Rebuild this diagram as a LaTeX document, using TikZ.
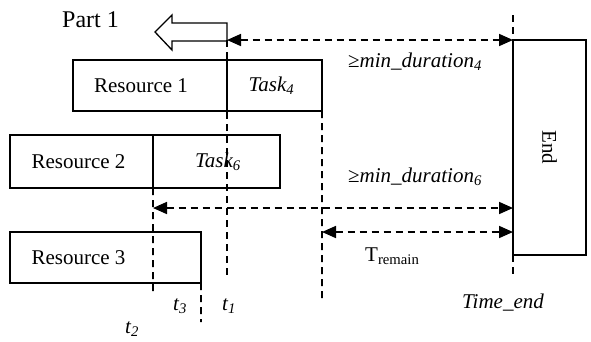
\documentclass[tikz,border=0pt]{standalone}
\usepackage{fontspec}
\setmainfont{Liberation Serif}
\usetikzlibrary{arrows.meta}

\tikzset{
  txt/.style={font=\fontsize{21bp}{25bp}\selectfont, inner sep=0pt},
  cell/.style={txt, draw, line width=1.7bp, outer sep=0pt, anchor=north west},
  timeline/.style={line width=1.7bp, dash pattern=on 7bp off 5bp},
  span/.style={timeline, {Triangle[length=14bp,width=12bp]}-{Triangle[length=14bp,width=12bp]}},
}

\begin{document}
\begin{tikzpicture}[x=1bp,y=-1bp]
\useasboundingbox (0,0) rectangle (591,341);

% resource rows
\node[cell, minimum width=154bp, minimum height=51bp] (res1) at (73,60) {};
\node[cell, minimum width=95bp, minimum height=51bp] (task4) at (res1.north east) {};
\node[cell, minimum width=143bp, minimum height=53bp] (res2) at (10,135) {};
\node[cell, minimum width=127bp, minimum height=53bp] (task6) at (res2.north east) {};
\node[cell, minimum width=191bp, minimum height=51bp] (res3) at (10,232) {};

\node[txt, xshift=-9bp] (res1txt) at (res1.center) {Resource 1};
\node[txt, xshift=-3bp] (task4txt) at (task4.center) {\itshape Task\textsubscript{4}};
\node[txt, xshift=-3bp] (res2txt) at (res2.center) {Resource 2};
\node[txt, xshift=1.5bp] (task6txt) at (task6.center) {\itshape Task\textsubscript{6}};
\node[txt] (res3txt) at (res2txt |- res3.center) {Resource 3};

% end block
\node[cell, minimum width=73bp, minimum height=215bp] (end) at (513,40) {\rotatebox{-90}{End}};

% part label and hollow back arrow
\node[txt, font=\fontsize{24bp}{28bp}\selectfont, anchor=base west] (part) at (62,27) {Part 1};
\draw[line width=1.3bp, fill=white]
  (227,23) -- (172,23) -- (172,15) -- (155,32) -- (172,50) -- (172,41) -- (227,41) -- cycle;

% time lines
\coordinate (t1top) at (227,40);
\coordinate (t1bot) at (227,279);
\coordinate (t2bot) at (153,296);
\coordinate (t3bot) at (201,322);
\coordinate (trbot) at (322,303);
\coordinate (tetop) at (513,15);
\coordinate (tebot) at (513,275);
\draw[timeline] (t1top) -- (t1bot);
\draw[timeline] (res2.south east) -- (t2bot);
\draw[timeline] (res3.south east) -- (t3bot);
\draw[timeline] (task4.south east) -- (trbot);
\draw[timeline] (tetop) -- (end.north west);
\draw[timeline] (end.south west) -- (tebot);

% duration spans
\coordinate (a2) at (153,208);
\coordinate (a3) at (322,232);
\draw[span] (t1top) -- (end.north west);
\draw[span] (a2) -- (a2 -| end.west);
\draw[span] (a3) -- (a3 -| end.west);

% span labels
\node[txt, anchor=base west] (d4) at (348,67) {≥\textit{min\_duration\textsubscript{4}}};
\node[txt, anchor=base west] (d6) at (348,182) {≥\textit{min\_duration\textsubscript{6}}};
\node[txt, anchor=base west] (trem) at (365,261) {T\textsubscript{remain}};

% time labels
\node[txt, anchor=base west] (lt3) at (173,310) {\textit{t\textsubscript{3}}};
\node[txt, anchor=base west] (lt1) at (222,310) {\textit{t\textsubscript{1}}};
\node[txt, anchor=base west] (lt2) at (125,333) {\textit{t\textsubscript{2}}};
\node[txt, anchor=base west] (lte) at (462,308) {\textit{Time\_end}};
\end{tikzpicture}
\end{document}
